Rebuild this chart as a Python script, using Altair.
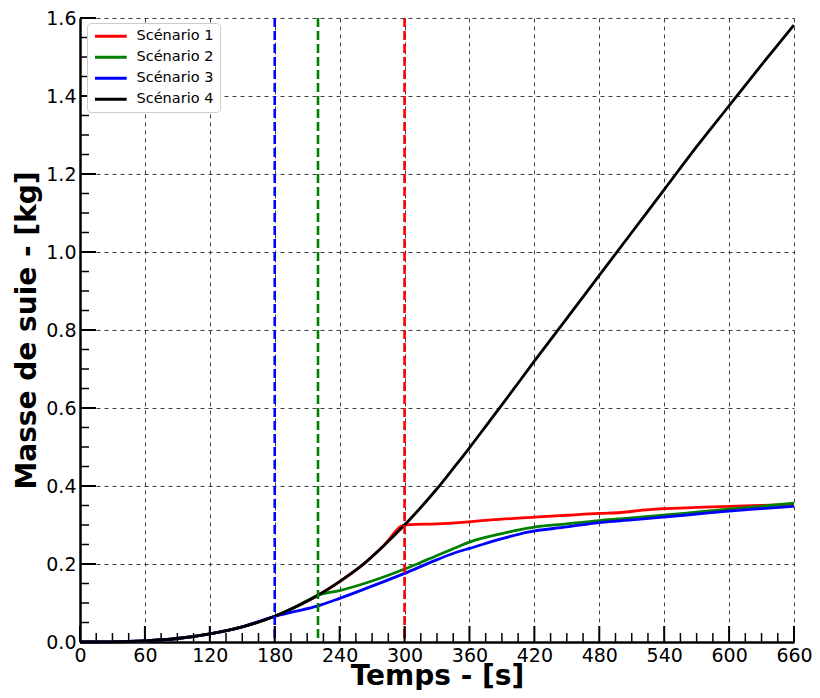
import altair as alt
import pandas as pd

scenarios = ["Scénario 1", "Scénario 2", "Scénario 3", "Scénario 4"]
colors = ["#ff0000", "#008000", "#0000ff", "#000000"]

# Scenario 4 (full curve, shared by the others before their cut-off)
t4 = [0, 30, 60, 90, 120, 150, 180, 200, 220, 240, 260, 280, 300, 315, 330, 345,
      360, 375, 390, 420, 450, 480, 510, 540, 570, 600, 630, 660]
m4 = [0, 0.0005, 0.003, 0.009, 0.021, 0.039, 0.066, 0.091, 0.12, 0.155, 0.195, 0.245,
      0.30, 0.345, 0.393, 0.445, 0.498, 0.553, 0.608, 0.72, 0.83, 0.94, 1.05, 1.16,
      1.27, 1.375, 1.48, 1.582]

# Scenario 1 after t = 300 s
t1 = [305, 330, 350, 380, 420, 450, 480, 500, 520, 540, 570, 600, 630, 660]
m1 = [0.301, 0.303, 0.306, 0.313, 0.32, 0.325, 0.33, 0.332, 0.338, 0.342, 0.345,
      0.348, 0.35, 0.353]

# Scenario 2 after t = 220 s
t2 = [240, 265, 280, 300, 320, 350, 360, 390, 414, 450, 482, 510, 539, 570, 597, 630, 660]
m2 = [0.132, 0.152, 0.166, 0.187, 0.21, 0.245, 0.256, 0.278, 0.292, 0.303, 0.312,
      0.318, 0.325, 0.333, 0.34, 0.348, 0.356]

# Scenario 3 after t = 180 s
t3 = [200, 219, 240, 265, 300, 329, 350, 360, 390, 414, 450, 482, 510, 539, 570, 597, 630, 660]
m3 = [0.079, 0.092, 0.112, 0.138, 0.176, 0.21, 0.232, 0.24, 0.265, 0.282, 0.295,
      0.307, 0.313, 0.32, 0.328, 0.335, 0.342, 0.348]

cut_times = [300, 220, 180]
cut_names = ["Scénario 1", "Scénario 2", "Scénario 3"]
cut_colors = ["#ff0000", "#008000", "#0000ff"]

x_major = [0, 60, 120, 180, 240, 300, 360, 420, 480, 540, 600, 660]
y_major = [0.0, 0.2, 0.4, 0.6, 0.8, 1.0, 1.2, 1.4, 1.6]
x_minor = [t for t in range(0, 661, 15) if t % 60 != 0]
y_minor = [round(k * 0.05, 2) for k in range(0, 33) if k % 4 != 0]

rows = []
for name, cut, tt, mm in [("Scénario 1", 300, t1, m1), ("Scénario 2", 220, t2, m2),
                          ("Scénario 3", 180, t3, m3)]:
    for t, m in zip(t4, m4):
        if t <= cut:
            rows.append({"t": t, "m": m, "scenario": name})
    for t, m in zip(tt, mm):
        rows.append({"t": t, "m": m, "scenario": name})
for t, m in zip(t4, m4):
    rows.append({"t": t, "m": m, "scenario": "Scénario 4"})
df = pd.DataFrame(rows)

W, H = 714, 624
FONT = "DejaVu Sans"

xscale = alt.Scale(domain=[0, 660], nice=False, zero=False)
yscale = alt.Scale(domain=[0, 1.6], nice=False, zero=False)

lines = alt.Chart(df).mark_line(strokeWidth=2.8, interpolate="monotone").encode(
    x=alt.X("t:Q", scale=xscale, axis=alt.Axis(
        values=x_major, title="Temps - [s]", format="d", labelFlush=False,
        labelOverlap=False, labelPadding=4, titlePadding=-3)),
    y=alt.Y("m:Q", scale=yscale, axis=alt.Axis(
        values=y_major, title="Masse de suie - [kg]", format=".1f", labelFlush=False,
        labelOverlap=False, labelPadding=4, titlePadding=4)),
    color=alt.Color("scenario:N", scale=alt.Scale(domain=scenarios, range=colors),
                    legend=alt.Legend(title=None, orient="none", legendX=7, legendY=5,
                                      symbolType="M-1,0H5", symbolSize=112,
                                      symbolStrokeWidth=3, labelFontSize=14.5,
                                      labelFont=FONT, fillColor="white",
                                      strokeColor="#cccccc", cornerRadius=4,
                                      padding=6, labelOffset=29, rowPadding=6)),
)

vl = alt.Chart(pd.DataFrame({"t": cut_times, "scenario": cut_names, "col": cut_colors})).mark_rule(
    strokeWidth=2.6, strokeDash=[9, 4]).encode(
    x=alt.X("t:Q", scale=xscale),
    color=alt.Color("col:N", scale=None),
)

xmaj = alt.Chart(pd.DataFrame({"t": x_major})).mark_rule(color="black", strokeWidth=2).encode(
    x=alt.X("t:Q", scale=xscale), y=alt.value(H), y2=alt.value(H - 16))
xmin = alt.Chart(pd.DataFrame({"t": x_minor})).mark_rule(color="black", strokeWidth=1.5).encode(
    x=alt.X("t:Q", scale=xscale), y=alt.value(H), y2=alt.value(H - 9))
ymaj = alt.Chart(pd.DataFrame({"m": y_major})).mark_rule(color="black", strokeWidth=2).encode(
    y=alt.Y("m:Q", scale=yscale), x=alt.value(0), x2=alt.value(16))
ymin = alt.Chart(pd.DataFrame({"m": y_minor})).mark_rule(color="black", strokeWidth=1.5).encode(
    y=alt.Y("m:Q", scale=yscale), x=alt.value(0), x2=alt.value(9))

chart = alt.layer(lines, vl, xmaj, xmin, ymaj, ymin).properties(
    width=W, height=H,
    autosize=alt.AutoSizeParams(type="none"),
    padding={"left": 72, "top": 10, "right": 18, "bottom": 48},
).configure_view(stroke=None).configure_axis(
    grid=True, gridDash=[4, 4], gridColor="#000000", gridOpacity=0.75, gridWidth=1,
    domainColor="#000000", domainWidth=2.5, ticks=False, tickSize=0,
    labelFont=FONT, labelFontSize=19, labelColor="#000000",
    titleFont=FONT, titleFontSize=28, titleFontWeight="bold", titleColor="#000000",
)

chart.save("out.html", embed_options={"renderer": "svg", "actions": False})
